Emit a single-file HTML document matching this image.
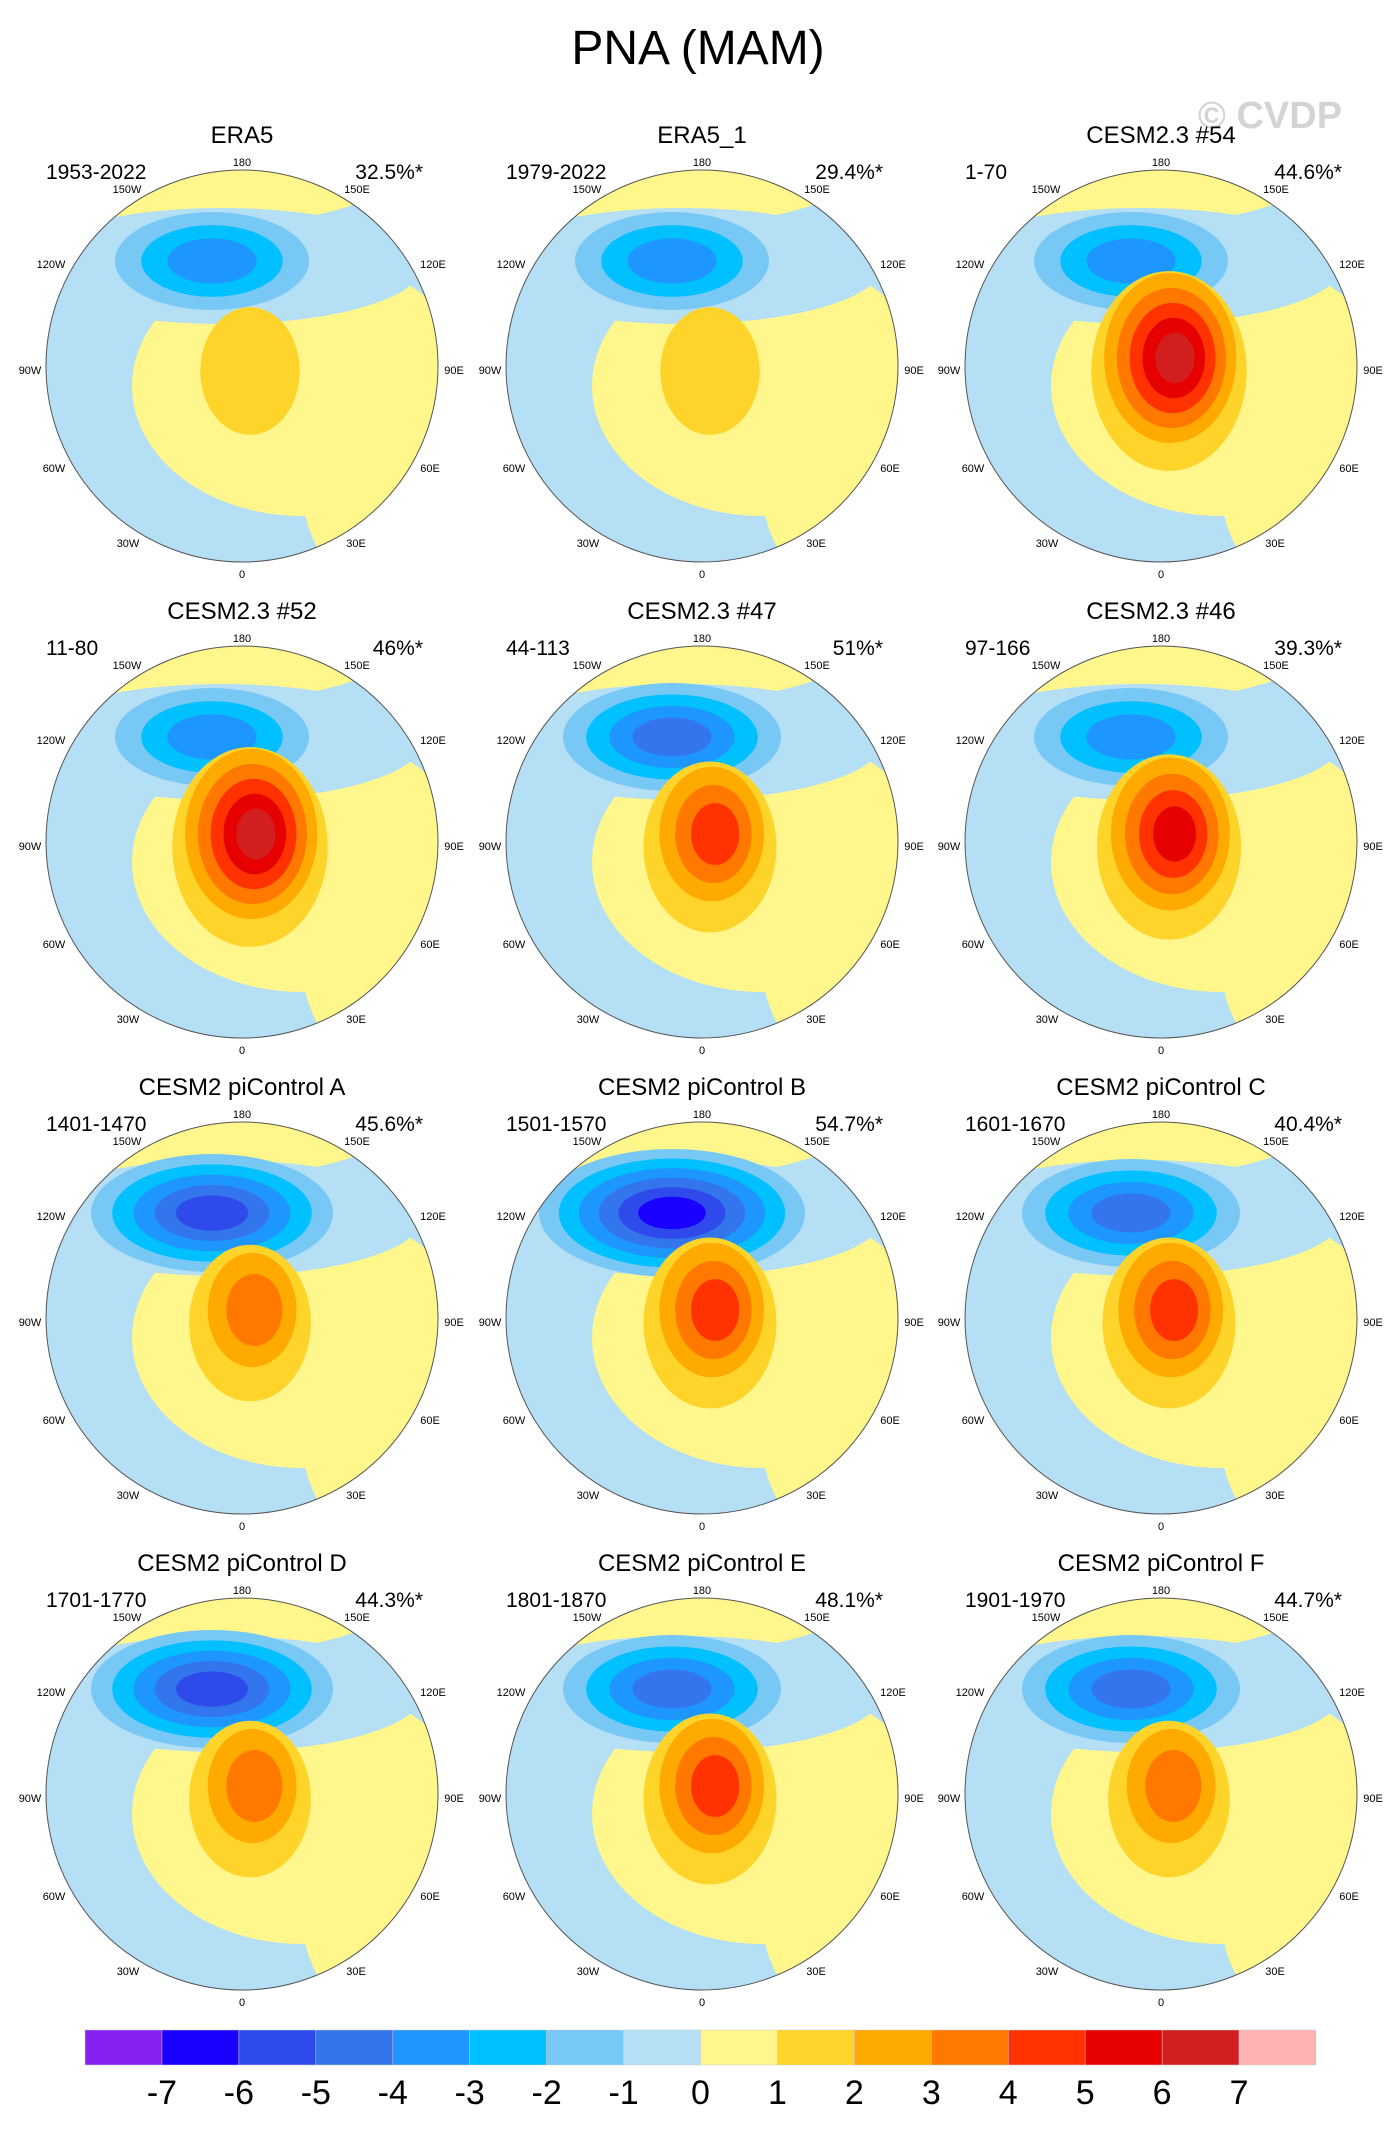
<!DOCTYPE html>
<html><head><meta charset="utf-8">
<style>
body{margin:0;background:#fff;}
svg{display:block;font-family:"Liberation Sans",sans-serif;}
</style></head>
<body>
<svg id="fig" width="1396" height="2130" viewBox="0 0 1396 2130">
<text x="698" y="64" font-size="48" text-anchor="middle">PNA (MAM)</text>
<text x="1270" y="128" font-size="38" font-weight="bold" fill="#d4d4d4" text-anchor="middle">© CVDP</text>
<g id="panels"></g>
<g id="cbar"></g>
</svg>
<script>
const titles=["ERA5","ERA5_1","CESM2.3 #54","CESM2.3 #52","CESM2.3 #47","CESM2.3 #46","CESM2 piControl A","CESM2 piControl B","CESM2 piControl C","CESM2 piControl D","CESM2 piControl E","CESM2 piControl F"];
const periods=["1953-2022","1979-2022","1-70","11-80","44-113","97-166","1401-1470","1501-1570","1601-1670","1701-1770","1801-1870","1901-1970"];
const percents=["32.5%*","29.4%*","44.6%*","46%*","51%*","39.3%*","45.6%*","54.7%*","40.4%*","44.3%*","48.1%*","44.7%*"];
const negMin=[-3.5,-3.5,-3.5,-3.5,-4.5,-3.5,-5.5,-6.5,-4.5,-5.5,-4.5,-4.5];
const posMax=[1.5,1.5,6.5,6.5,4.5,5.5,3.5,4.5,4.5,3.5,4.5,3.5];
const cbLevels=[-7,-6,-5,-4,-3,-2,-1,0,1,2,3,4,5,6,7];
const cbColors=["#8520f0","#1a00ff","#2f4aeb","#3375ed","#1e96ff","#00c0ff","#78c8f5","#b4dff5","#fff68c","#ffd42a","#ffaa00","#ff7800","#ff3200","#e60000","#d21e1e","#ffb3b3"];

const NS="http://www.w3.org/2000/svg";
function mk(tag,attrs,parent){const e=document.createElementNS(NS,tag);for(const k in attrs)e.setAttribute(k,attrs[k]);parent.appendChild(e);return e;}
function colorFor(v){let i=0;while(i<cbLevels.length&&v>cbLevels[i])i++;return cbColors[i];}
const colX=[242,702,1161], rowY=[366,842,1318,1794], R=196;
const lonLabels=[["180",0,-204],["150W",-115,-177],["120W",-191,-102],["90W",-212,4],["60W",-188,102],["30W",-114,177],["0",0,208],["150E",115,-177],["120E",191,-102],["90E",212,4],["60E",188,102],["30E",114,177]];
const panels=document.getElementById('panels');
titles.forEach((t,i)=>{
  const cx=colX[i%3], cy=rowY[Math.floor(i/3)];
  const g=mk('g',{},panels);
  
  
  const tt=mk('text',{x:cx,y:cy-223,'font-size':24,'text-anchor':'middle'},g);tt.textContent=t;
  
  const pt=mk('text',{x:cx-196,y:cy-187,'font-size':21},g);pt.textContent=periods[i];
  
  const pc=mk('text',{x:cx+181,y:cy-187,'font-size':21,'text-anchor':'end'},g);pc.textContent=percents[i];
  
  const cid='clip'+i;
  const cp=mk('clipPath',{id:cid},g);mk('circle',{cx:cx,cy:cy,r:R},cp);
  const m=mk('g',{'clip-path':'url(#'+cid+')'},g);
  
  mk('rect',{x:cx-R,y:cy-R,width:2*R,height:2*R,fill:'#b4dff5'},m);
  mk('ellipse',{cx:cx-30,cy:cy-250,rx:240,ry:110,fill:'#fff68c'},m);
  mk('ellipse',{cx:cx+60,cy:cy+20,rx:170,ry:130,fill:'#fff68c'},m);
  mk('ellipse',{cx:cx+150,cy:cy+120,rx:90,ry:110,fill:'#fff68c'},m);
  mk('ellipse',{cx:cx-20,cy:cy-100,rx:200,ry:58,fill:'#b4dff5'},m);
  const nN=Math.ceil(-negMin[i]);
  for(let k=1;k<nN;k++){
    const f=1-(k-1)/(nN-0.3);
    const e=mk('ellipse',{cx:cx-30,cy:cy-105,rx:(85+(nN-3)*12)*f,ry:(44+(nN-3)*5)*f,fill:colorFor(-k-0.5)},m);
    
  }
  const nP=Math.ceil(posMax[i]);
  for(let k=1;k<nP;k++){
    const f=1-(k-1)/(nP-0.3);
    const s=0.55+0.08*nP;
    const e=mk('ellipse',{cx:cx+8+(1-f)*8,cy:cy+(k===1?5:-8),rx:(70*f)*s,ry:(90*f)*s,fill:colorFor(k+0.5)},m);
    
  }
  const c=mk('circle',{cx:cx,cy:cy,r:R,fill:'none',stroke:'#555','stroke-width':1},g);
  
  lonLabels.forEach(l=>{
    const tx=mk('text',{x:cx+l[1],y:cy+l[2]+4,'font-size':11,'text-anchor':'middle'},g);tx.textContent=l[0];
    
  });
});
const cb=document.getElementById('cbar');
const x0=85,x1=1316,y0=2030,h=35,w=(x1-x0)/cbColors.length;
cbColors.forEach((col,i)=>{
  const r=mk('rect',{x:x0+i*w,y:y0,width:w,height:h,fill:col,stroke:'#ccc','stroke-width':0.5},cb);
  
});
cbLevels.forEach((v,i)=>{
  const t=mk('text',{x:x0+(i+1)*w,y:2104,'font-size':34,'text-anchor':'middle'},cb);t.textContent=v;
  
});
</script>
</body></html>
